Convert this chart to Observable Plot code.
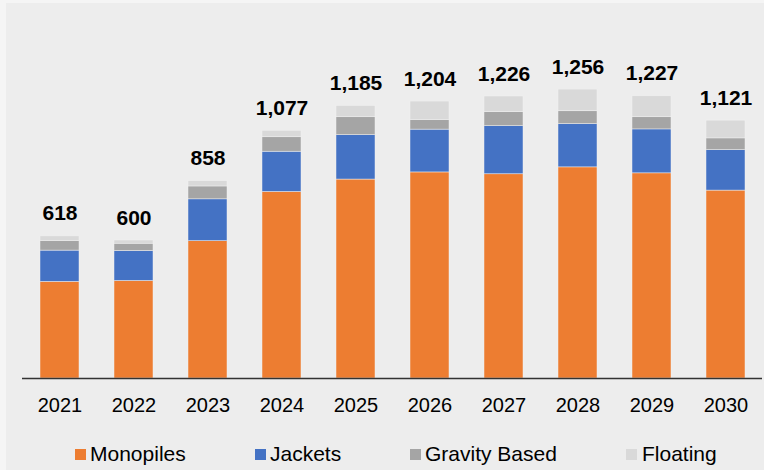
<!DOCTYPE html>
<html>
<head>
<meta charset="utf-8">
<script src="https://cdn.jsdelivr.net/npm/d3@7"></script>
<script src="https://cdn.jsdelivr.net/npm/@observablehq/plot@0.6"></script>
<style>
  html, body { margin: 0; padding: 0; background: #f5f5f5; }
  #wrap { position: relative; width: 764px; height: 470px; overflow: hidden; font-family: Arial, "Liberation Sans", sans-serif; }
  #bg { position: absolute; left: 6px; top: 3px; right: 0; bottom: 0; background: #ededed; }
  #chart { position: absolute; left: 0; top: 0; }
  .leg { position: absolute; top: 443px; font-size: 21px; line-height: 21px; color: #000; white-space: nowrap; }
  .sw { position: absolute; top: 449px; width: 11px; height: 11px; }
</style>
</head>
<body>
<div id="wrap">
  <div id="bg"></div>
  <div id="chart"></div>
  <div id="legend"></div>
</div>
<script>
const years = ["2021","2022","2023","2024","2025","2026","2027","2028","2029","2030"];
const seriesNames = ["Monopiles","Jackets","Gravity Based","Floating"];
const seriesColors = ["#ED7D31","#4472C4","#A5A5A5","#D9D9D9"];
const monopiles = [420,424,597,811,865,896,888,918,892,817];
const jackets   = [136,130,182,175,193,186,209,188,191,176];
const gravity   = [42,32,56,63,78,42,61,56,53,51];
const floating  = [20,14,23,28,49,80,68,94,91,77];
const totals    = [618,600,858,1077,1185,1204,1226,1256,1227,1121];

const seriesValues = [monopiles, jackets, gravity, floating];
const rows = [];
years.forEach((yr, i) => {
  seriesNames.forEach((name, s) => rows.push({year: yr, type: name, value: seriesValues[s][i]}));
});
const totalRows = years.map((yr, i) => ({year: yr, total: totals[i]}));

const chart = Plot.plot({
  width: 764,
  height: 430,
  marginLeft: 22,
  marginRight: 2,
  marginTop: 56,
  marginBottom: 52,
  style: {background: "transparent", fontFamily: "Arial, 'Liberation Sans', sans-serif", fontSize: "20px", color: "#000"},
  x: {domain: years, paddingInner: 0.473, paddingOuter: 0.234, label: null, tickSize: 0, tickPadding: 19},
  y: {domain: [0, 1400], axis: null},
  color: {domain: seriesNames, range: seriesColors},
  marks: [
    Plot.barY(rows, {x: "year", y: "value", fill: "type", stroke: "#f2f2f2", strokeWidth: 0.6, strokeOpacity: 0.8}),
    Plot.ruleY([0], {stroke: "#333", strokeWidth: 1.5}),
    Plot.text(totalRows, {x: "year", y: "total", text: d => d3.format(",")(d.total), lineAnchor: "bottom", dy: -16, fontWeight: "bold", fontSize: 21, fill: "#000"})
  ]
});
document.getElementById("chart").appendChild(chart);

const legendPos = [{sw: 75, tx: 90}, {sw: 255, tx: 270}, {sw: 410, tx: 425}, {sw: 626, tx: 642}];
const legend = document.getElementById("legend");
seriesNames.forEach((name, i) => {
  const sw = document.createElement("div");
  sw.className = "sw";
  sw.style.left = legendPos[i].sw + "px";
  sw.style.background = seriesColors[i];
  legend.appendChild(sw);
  const t = document.createElement("div");
  t.className = "leg";
  t.style.left = legendPos[i].tx + "px";
  t.textContent = name;
  legend.appendChild(t);
});
</script>
</body>
</html>
